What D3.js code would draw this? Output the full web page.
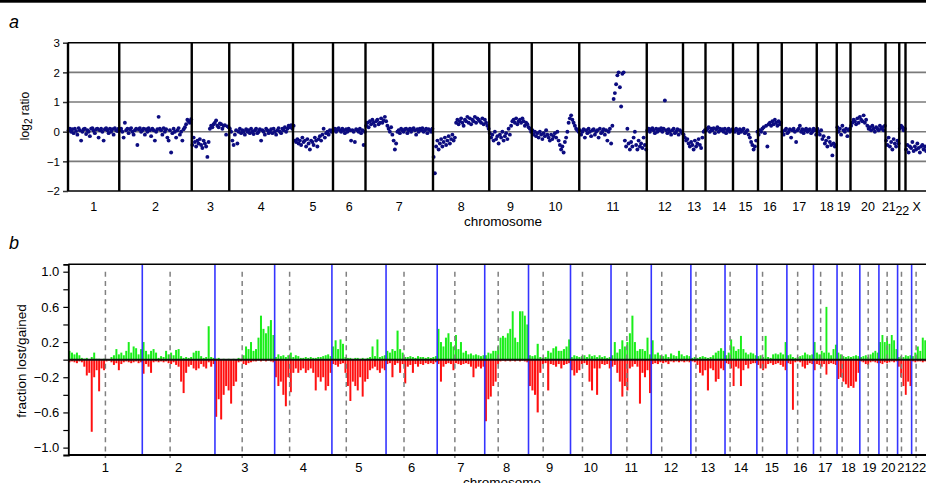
<!DOCTYPE html>
<html>
<head>
<meta charset="utf-8">
<script src="https://cdn.jsdelivr.net/npm/d3@7"></script>
<style>
body { margin: 0; background: #fff; }
svg { display: block; font-family: "Liberation Sans", Arial, sans-serif; }
</style>
</head>
<body>
<div id="chart"></div>
<script>
// ---- panel a : log2 ratio of every clone, grouped by chromosome
var chromNamesA = ["1","2","3","4","5","6","7","8","9","10","11","12","13","14","15","16","17","18","19","20","21","22","X"];
var cloneCounts = [41,58,30,51,32,26,54,45,34,38,54,29,18,22,20,19,28,16,11,28,11,5,18];
var log2Ratio = [
  [.05,.1,0,.08,-.05,.1,.02,-.1,.12,.05,-.3,0,.08,.1,-.08,.05,0,-.15,.1,.12,.03,-.05,.08,.1,-.2,.05,.1,0,-.3,.08,.12,.05,-.05,.1,0,.08,-.1,.12,.05,.02,.1],
  [.05,.1,0,-.2,.3,.05,.1,-.05,.08,.12,0,-.1,.05,.1,-.45,.08,.12,0,.05,.1,-.1,.08,0,.12,.05,-.15,.1,.05,-.3,0,.08,.5,.1,.05,-.1,.12,0,.08,-.2,-.3,.05,-.7,-.05,.1,0,-.2,.05,.12,-.1,0,-.3,.08,.15,.25,.4,.35,.3,.42],
  [-.45,-.2,-.35,-.5,-.3,-.4,-.25,-.45,-.55,-.3,-.4,-.5,-.85,-.35,.1,.2,.15,.25,.3,.38,.2,.15,.28,.25,.1,.2,.22,-.1,.18,.15],
  [.1,0,-.3,-.45,-.1,.05,-.4,0,.1,-.05,.05,0,-.1,.08,0,.05,-.05,.1,0,-.08,.05,.1,-.05,0,.08,-.3,.05,0,-.1,.1,.05,-.05,0,.08,-.05,.1,0,-.1,.05,.12,0,-.05,.1,.05,.15,0,.1,.2,.15,.22,.1],
  [.2,-.3,-.35,-.25,-.4,-.3,-.45,-.2,-.35,-.3,-.5,-.25,-.4,-.6,-.3,-.35,-.45,-.2,-.3,-.5,-.25,-.15,-.3,-.1,.1,-.2,-.05,0,-.1,.05,0,.05],
  [.05,.1,0,.08,.12,.05,0,.1,.05,-.05,.08,0,.1,.05,-.3,.05,0,-.35,.08,.05,0,.1,-.05,.05,-.45,0],
  [.2,.3,.15,.35,.25,.4,.3,.2,.35,.4,.25,.3,.45,.3,.38,.5,.35,.2,.1,0,.15,-.1,-.3,-.6,-.4,0,.05,-.05,.1,.05,0,.08,.1,-.05,.05,.1,0,.08,.12,.05,-.1,.08,0,.1,.05,.12,0,.05,.1,-.05,.08,.05,0,.1],
  [-.85,-1.4,-.5,-.3,-.6,-.4,-.25,-.5,-.35,-.2,-.45,-.3,-.15,-.4,-.25,-.1,-.3,-.2,.3,.4,.25,.35,.45,.3,.2,.4,.35,.5,.3,.45,.25,.4,.35,.5,.3,.45,.4,.35,.3,.45,.25,.4,.3,.2,.1],
  [-.05,-.2,-.1,-.3,0,-.25,-.15,-.4,-.1,-.2,0,-.3,-.15,-.05,-.25,.1,-.1,.2,.35,.4,.3,.45,.25,.35,.4,.3,.45,.35,.2,.3,.25,.15,.1,0],
  [.05,-.1,0,-.15,-.05,-.2,0,-.1,-.25,-.05,-.15,.05,-.1,-.2,-.3,-.1,-.25,-.15,-.05,-.2,0,-.3,-.45,-.6,-.5,-.7,-.35,-.2,0,.3,.45,.55,.4,.3,.2,.1,.05,0],
  [.05,-.1,0,.08,-.2,.05,-.05,.1,0,-.15,.05,.08,-.1,0,.05,-.2,.1,-.05,0,.08,-.1,.05,-.3,0,.1,-.4,.2,1.1,1.3,1.6,1.9,2,1.5,.85,1.95,2,-.3,-.5,.1,-.4,-.6,-.35,-.5,-.2,0,-.45,-.6,-.3,-.5,-.4,-.55,-.2,-.45,-.6],
  [.05,.1,0,.08,.12,.05,-.05,.1,0,.08,.05,.12,0,.1,1.05,.05,-.05,.08,0,-.1,.05,.1,-.05,0,.08,-.1,.05,0,-.05],
  [-.1,-.2,-.3,-.25,-.4,-.5,-.35,-.45,-.6,-.3,-.5,-.4,-.25,-.45,-.55,-.2,0,.05],
  [.05,.1,.15,0,.1,.05,.12,-.05,.08,.15,0,.1,.05,.08,0,.1,-.05,.05,.1,0,.05,.08],
  [.05,0,.1,.05,-.05,.08,0,.05,.1,-.05,0,.05,-.1,-.2,-.35,-.45,-.6,-.5,-.3,0],
  [-.1,.05,0,.1,.15,-.05,.2,-.5,.25,.3,.2,.35,.25,.4,.3,.2,.35,.25,.3],
  [0,-.1,.05,.1,-.05,0,.08,-.2,.05,.1,0,-.35,.05,.1,.2,0,.08,-.05,.05,.1,0,.05,.08,-.05,0,.1,.05,-.1],
  [.1,0,-.1,.05,-.25,-.15,-.4,-.3,-.5,-.2,-.35,-.45,-.8,-.4,-.5,-.45],
  [.15,0,.1,-.1,.2,.05,0,.1,-.15,.05,.1],
  [.2,.3,.4,.35,.25,.45,.3,.5,.4,.35,.55,.3,.4,.2,.1,.15,.05,.2,.1,0,.15,.1,.05,.2,.1,.15,.05,.2],
  [-.3,-.45,-.2,-.5,-.35,-.6,-.25,-.4,-.5,-.3,-.4],
  [.1,.2,.15,.05,.1],
  [-.6,-.45,-.7,-.5,-.55,-.35,-.65,-.5,-.6,-.4,-.55,-.7,-.5,-.45,-.6,-.5,-.65,-.55]
];
var yTicksA = [-2, -1, 0, 1, 2, 3];

// ---- panel b : fraction of tumours with loss / gain along the genome
var chromNamesB = ["1","2","3","4","5","6","7","8","9","10","11","12","13","14","15","16","17","18","19","20","21","22"];
var chromLengthMb = [247.2,242.8,199.5,191.3,180.9,170.9,158.8,146.3,140.3,135.4,134.5,132.3,114.1,106.4,100.3,88.8,78.8,76.1,63.8,62.4,46.9,49.7];
var centromereMb = [124,93,91,50,48,60,59,45,49,40,53,35,17,17,19,36,24,17,28,27.5,13,15];
var gainFrac = [
  [.1,.08,.06,.08,.05,.02,.01,.02,0,.03,.08,.01,.01,0,.01,0,0,.03,.05,.12,.06,.08,.05,.1,.2,.08,.15,.13,.06,.12],
  [.2,.1,.06,.1,.12,.08,.02,.04,.03,.1,.06,.08,.05,.11,.12,.04,.02,.03,.02,.03,.08,.1,.1,.04,.02,.03,.38,.03,.02],
  [.01,.02,0,.01,0,.01,0,.01,0,.02,.01,.05,.15,.12,.2,.1,.12,.25,.5,.35,.3,.38,.45,.28],
  [.03,.06,.04,.05,.03,.05,.08,.03,.05,.04,.02,.02,.03,.02,.03,.02,.02,.03,.03,.04,.05,.06,.04],
  [.15,.22,.12,.23,.18,.03,.02,.02,.01,.02,.02,.01,.02,.01,.02,.03,.15,.04,.23,.03,.04,.05],
  [.1,.08,.12,.1,.33,.12,.08,.03,.03,.04,.03,.02,.04,.03,.03,.02,.03,.02,.03,.04],
  [.35,.2,.15,.25,.3,.2,.15,.28,.12,.2,.08,.1,.06,.07,.05,.06,.05,.04,.05],
  [.05,.08,.07,.1,.1,.15,.25,.27,.25,.3,.35,.55,.25,.2,.55,.55,.5,.4],
  [.05,.04,.05,.18,.03,.02,.03,.1,.08,.13,.15,.1,.1,.12,.15,.23],
  [.03,.05,.04,.03,.04,.05,.03,.06,.04,.05,.03,.05,.03,.04,.02,.03],
  [.05,.2,.08,.12,.22,.15,.2,.3,.5,.2,.1,.12,.12,.1,.25,.06],
  [.22,.06,.08,.05,.04,.06,.03,.07,.05,.04,.1,.06,.04,.05,.04],
  [.02,.03,.02,.03,.04,.03,.02,.03,.05,.08,.1,.13,.1],
  [.05,.08,.23,.15,.1,.12,.27,.12,.08,.06,.08,.07,.05],
  [.04,.05,.03,.27,.03,.02,.06,.07,.06,.08,.06,.2],
  [.05,.06,.03,.02,.03,.04,.05,.08,.06,.05,.06],
  [.2,.08,.06,.1,.08,.6,.08,.05,.12,.17],
  [.08,.06,.04,.03,.04,.03,.04,.05,.04],
  [.03,.04,.05,.03,.06,.08,.1,.08],
  [.2,.28,.2,.25,.18,.28,.22,.12],
  [.03,.04,.03,.05,.04,.05],
  [.04,.08,.15,.1,.25,.22]
];
var lossFrac = [
  [-.03,-.02,-.03,-.04,-.02,-.03,-.08,-.18,-.15,-.82,-.2,-.12,-.36,-.1,-.12,-.02,-.01,-.03,-.06,-.04,-.12,-.05,-.03,-.02,-.03,-.04,-.03,-.02,-.04,-.03],
  [-.16,-.05,-.08,-.15,-.03,-.02,-.03,-.02,-.03,-.02,-.04,-.05,-.03,-.06,-.08,-.25,-.38,-.15,-.08,-.06,-.1,-.12,-.1,-.05,-.08,-.1,-.03,-.08,-.05],
  [-.65,-.45,-.68,-.4,-.3,-.35,-.5,-.3,-.25,-.03,-.02,-.05,-.06,-.04,-.03,-.02,-.02,-.01,-.02,-.01,-.02,-.01,-.02,-.03],
  [-.2,-.3,-.25,-.4,-.53,-.2,-.37,-.15,-.1,-.15,-.12,-.1,-.15,-.12,-.1,-.15,-.35,-.2,-.25,-.2,-.35,-.3,-.15],
  [-.05,-.06,-.08,-.05,-.04,-.15,-.3,-.47,-.25,-.3,-.35,-.2,-.42,-.25,-.22,-.12,-.1,-.08,-.12,-.15,-.1,-.12],
  [-.05,-.04,-.2,-.06,-.04,-.15,-.05,-.27,-.08,-.06,-.15,-.05,-.08,-.05,-.06,-.04,-.05,-.04,-.05,-.03],
  [-.05,-.25,-.08,-.05,-.04,-.05,-.12,-.04,-.05,-.06,-.05,-.04,-.05,-.08,-.2,-.1,-.08,-.1,-.08],
  [-.7,-.45,-.42,-.3,-.25,-.05,-.02,-.01,-.02,-.01,-.02,-.01,-.02,-.01,-.02,-.01,-.02,-.03],
  [-.3,-.35,-.4,-.6,-.15,-.05,-.04,-.35,-.05,-.06,-.08,-.05,-.1,-.06,-.05,-.04],
  [-.12,-.18,-.15,-.12,-.05,-.04,-.06,-.25,-.35,-.1,-.4,-.1,-.05,-.06,-.05,-.1],
  [-.08,-.06,-.15,-.25,-.42,-.3,-.35,-.1,-.08,-.05,-.08,-.5,-.15,-.2,-.12,-.38],
  [-.05,-.04,-.05,-.03,-.04,-.03,-.05,-.02,-.03,-.02,-.03,-.02,-.03,-.02,-.03],
  [-.02,-.03,-.06,-.15,-.18,-.12,-.35,-.1,-.12,-.25,-.22,-.1,-.12],
  [-.04,-.05,-.1,-.3,-.08,-.1,-.3,-.12,-.06,-.1,-.05,-.04,-.04],
  [-.06,-.1,-.12,-.1,-.05,-.04,-.06,-.05,-.04,-.06,-.08,-.12],
  [-.04,-.05,-.57,-.03,-.02,-.03,-.08,-.1,-.06,-.04,-.05],
  [-.12,-.05,-.06,-.08,-.05,-.17,-.05,-.04,-.05,-.06],
  [-.22,-.2,-.25,-.28,-.32,-.3,-.32,-.25,-.15],
  [-.02,-.03,-.05,-.06,-.03,-.02,-.03,-.04],
  [-.04,-.05,-.03,-.04,-.03,-.02,-.03,-.02],
  [-.08,-.2,-.3,-.4,-.25,-.3],
  [-.02,-.03,-.02,-.02,-.03,-.02]
];
var yTicksB = [-1.0,-0.8,-0.6,-0.4,-0.2,0,0.2,0.4,0.6,0.8,1.0];
var yLabelsB = [-1.0,-0.6,-0.2,0.2,0.6,1.0];

var W = 926, H = 483;
var font = "Liberation Sans, Arial, sans-serif";

var svg = d3.select("#chart").append("svg")
    .attr("width", W)
    .attr("height", H);

svg.append("rect").attr("width", W).attr("height", H).attr("fill", "#fff");
// rule across the top of the figure
svg.append("rect").attr("x", 0).attr("y", 0).attr("width", W).attr("height", 2.7).attr("fill", "#000");

svg.append("text").text("a")
    .attr("x", 9).attr("y", 28)
    .attr("font-size", 18).attr("font-style", "italic");
svg.append("text").text("b")
    .attr("x", 9).attr("y", 249)
    .attr("font-size", 18).attr("font-style", "italic");

// ================= panel a
var startsA = [];
var totalA = 0;
cloneCounts.forEach(function(c){ startsA.push(totalA); totalA += c; });

var xa = d3.scaleLinear().domain([0, totalA]).range([68, 928]);
var ya = d3.scaleLinear().domain([-2, 3]).range([191, 42.7]);

var ga = svg.append("g");

ga.selectAll("line.grid")
    .data(yTicksA)
    .enter()
    .append("line")
    .attr("class", "grid")
    .attr("x1", xa(0)).attr("x2", W)
    .attr("y1", function(d){ return ya(d); })
    .attr("y2", function(d){ return ya(d); })
    .attr("stroke", function(d){ return (d == 3 || d == -2) ? "#000" : "#7a7a7a"; })
    .attr("stroke-width", 1.6);

var axA = ga.append("g")
    .attr("transform", "translate(" + xa(0) + ",0)")
    .call(d3.axisLeft(ya).tickValues(yTicksA).tickSize(5).tickPadding(3).tickFormat(d3.format("d")));
axA.select(".domain").remove();
axA.selectAll("line").attr("stroke", "#333").attr("stroke-width", 1.5);
axA.selectAll("text").attr("font-size", 11.5).attr("font-family", font).attr("fill", "#000");

// clones
var pts = [];
log2Ratio.forEach(function(vals, c){
    vals.forEach(function(v, i){ pts.push({c: c, i: i, n: vals.length, v: v}); });
});
ga.selectAll("circle")
    .data(pts)
    .enter()
    .append("circle")
    .attr("cx", function(d){ return xa(startsA[d.c] + (d.i + 0.5) * cloneCounts[d.c] / d.n); })
    .attr("cy", function(d){ return ya(d.v); })
    .attr("r", 1.95)
    .attr("fill", "#0c0c80");

// chromosome boundaries
ga.selectAll("line.chr")
    .data(startsA)
    .enter()
    .append("line")
    .attr("class", "chr")
    .attr("x1", function(d){ return xa(d); })
    .attr("x2", function(d){ return xa(d); })
    .attr("y1", ya(3)).attr("y2", ya(-2))
    .attr("stroke", "#000")
    .attr("stroke-width", 2.4);

ga.selectAll("text.chr")
    .data(chromNamesA)
    .enter()
    .append("text")
    .attr("class", "chr")
    .attr("x", function(d, i){ return xa(startsA[i] + cloneCounts[i] / 2) + (d == "21" ? -3.5 : 0); })
    .attr("y", function(d){ return d == "22" ? 215 : 211; })
    .attr("text-anchor", "middle")
    .attr("font-size", 12.5)
    .text(function(d){ return d; });

ga.append("text")
    .attr("x", 503).attr("y", 225.5)
    .attr("text-anchor", "middle")
    .attr("font-size", 13.5)
    .text("chromosome");

var labA = ga.append("text")
    .attr("transform", "translate(29,116) rotate(-90)")
    .attr("text-anchor", "middle")
    .attr("font-size", 12);
labA.append("tspan").text("log");
labA.append("tspan").text("2").attr("font-size", 10).attr("dy", 2.5);
labA.append("tspan").text(" ratio").attr("dy", -2.5);

// ================= panel b
var startsB = [];
var totalB = 0;
chromLengthMb.forEach(function(l){ startsB.push(totalB); totalB += l; });

var xb = d3.scaleLinear().domain([0, totalB]).range([68.3, 926.5]);
var yb = d3.scaleLinear().domain([-1.084, 1.084]).range([455, 264.3]);

var gb = svg.append("g");

var bars = [];
gainFrac.forEach(function(vals, c){
    var n = vals.length, step = chromLengthMb[c] / n;
    vals.forEach(function(v, i){
        bars.push({pos: startsB[c] + (i + 0.5) * step, step: step, gain: v, loss: lossFrac[c][i]});
    });
});

function barW(d){ return (xb(d.step) - xb(0)) * 0.8; }

gb.selectAll("rect.gain")
    .data(bars)
    .enter()
    .append("rect")
    .attr("class", "gain")
    .attr("x", function(d){ return xb(d.pos) - barW(d) / 2; })
    .attr("width", barW)
    .attr("y", function(d){ return yb(d.gain); })
    .attr("height", function(d){ return yb(0) - yb(d.gain); })
    .attr("fill", "#1aee1a");

gb.selectAll("rect.loss")
    .data(bars)
    .enter()
    .append("rect")
    .attr("class", "loss")
    .attr("x", function(d){ return xb(d.pos) - barW(d) / 2; })
    .attr("width", barW)
    .attr("y", yb(0))
    .attr("height", function(d){ return yb(d.loss) - yb(0); })
    .attr("fill", "#ff1010");

// centromeres
gb.selectAll("line.cen")
    .data(centromereMb)
    .enter()
    .append("line")
    .attr("class", "cen")
    .attr("x1", function(d, i){ return xb(startsB[i] + d); })
    .attr("x2", function(d, i){ return xb(startsB[i] + d); })
    .attr("y1", yb(1)).attr("y2", yb(-1.084) + 3)
    .attr("stroke", "#808080")
    .attr("stroke-width", 1.5)
    .attr("stroke-dasharray", "5,4.2");

// chromosome boundaries
gb.selectAll("line.chr")
    .data(startsB.slice(1))
    .enter()
    .append("line")
    .attr("class", "chr")
    .attr("x1", function(d){ return xb(d); })
    .attr("x2", function(d){ return xb(d); })
    .attr("y1", yb(1.084)).attr("y2", yb(-1.084))
    .attr("stroke", "#3535ff")
    .attr("stroke-width", 1.6);

gb.append("line")
    .attr("x1", xb(0)).attr("x2", W)
    .attr("y1", yb(0)).attr("y2", yb(0))
    .attr("stroke", "#111")
    .attr("stroke-width", 2);

// frame
gb.append("line")
    .attr("x1", xb(0)).attr("x2", W)
    .attr("y1", yb(1.084)).attr("y2", yb(1.084))
    .attr("stroke", "#000").attr("stroke-width", 1.5);
gb.append("line")
    .attr("x1", xb(0)).attr("x2", W)
    .attr("y1", yb(-1.084)).attr("y2", yb(-1.084))
    .attr("stroke", "#000").attr("stroke-width", 1.8);

var axB = gb.append("g")
    .attr("transform", "translate(" + xb(0) + ",0)")
    .call(d3.axisLeft(yb).tickValues(yTicksB).tickSize(5).tickPadding(4)
        .tickFormat(function(d){ return yLabelsB.some(function(l){ return Math.abs(l - d) < 1e-9; }) ? d3.format(".1f")(d) : ""; }));
axB.select(".domain").attr("stroke", "#000").attr("stroke-width", 1.8);
axB.selectAll("line").attr("stroke", "#000").attr("stroke-width", 1.2);
axB.selectAll("text").attr("font-size", 13).attr("font-family", font).attr("fill", "#000");

gb.selectAll("text.chr")
    .data(chromNamesB)
    .enter()
    .append("text")
    .attr("class", "chr")
    .attr("x", function(d, i){ return xb(startsB[i] + chromLengthMb[i] / 2); })
    .attr("y", 472)
    .attr("text-anchor", "middle")
    .attr("font-size", 13)
    .text(function(d){ return d; });

gb.append("text")
    .attr("x", 502).attr("y", 486.5)
    .attr("text-anchor", "middle")
    .attr("font-size", 13.5)
    .text("chromosome");

gb.append("text")
    .attr("transform", "translate(26,361) rotate(-90)")
    .attr("text-anchor", "middle")
    .attr("font-size", 13.5)
    .text("fraction lost/gained");
</script>
</body>
</html>
